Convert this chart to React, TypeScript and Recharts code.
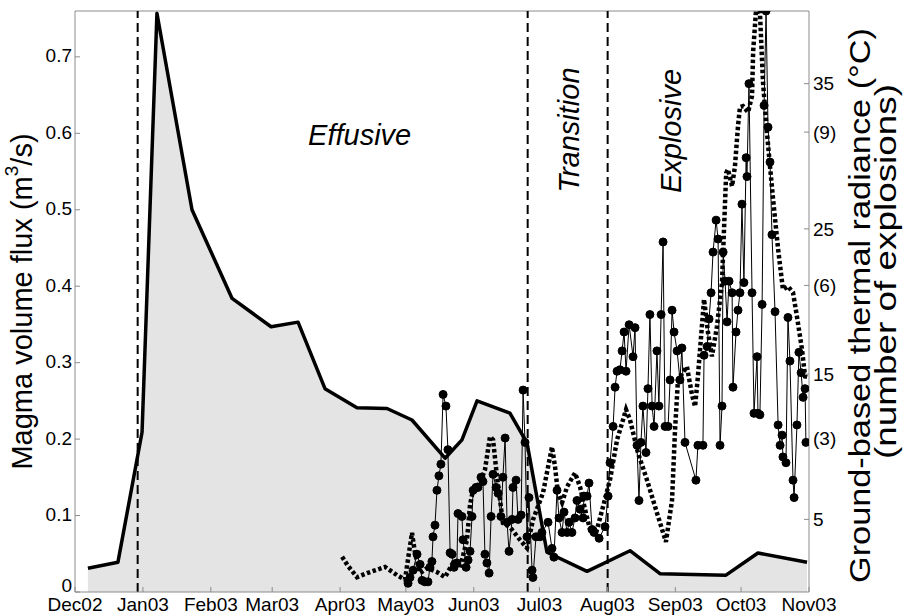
import {
  ComposedChart,
  Area,
  Line,
  XAxis,
  YAxis,
  ReferenceLine,
} from 'recharts';

// days counted from 1 Dec 2002
const monthLabels = ['Dec02', 'Jan03', 'Feb03', 'Mar03', 'Apr03', 'May03', 'Jun03', 'Jul03', 'Aug03', 'Sep03', 'Oct03', 'Nov03'];
const monthStartDays = [0, 31, 62, 90, 121, 151, 182, 212, 243, 274, 304, 335];

const fluxTicks = [0, 0.1, 0.2, 0.3, 0.4, 0.5, 0.6, 0.7];
const tempTicks = [5, 15, 25, 35];
const explosionTicks = [3, 6, 9];

const FLUX_MAX = 0.76;
const TEMP_MAX = 40;
const EXPL_MAX = 11.37;

// phase boundaries (dashed lines)
const phaseDays = [28.6, 206.6, 243.1];

const magmaDays = [5.9, 19.6, 30.6, 37.4, 53.4, 71.7, 89.5, 101.8, 114.1, 128.7, 142.4, 153.8, 168.9, 176.6, 183.5, 198.5, 206.3, 215.4, 233.7, 253.3, 267.0, 297.1, 311.7, 334.1];
const magmaFlux = [0.031, 0.039, 0.209, 0.757, 0.5, 0.384, 0.347, 0.353, 0.266, 0.241, 0.24, 0.225, 0.175, 0.199, 0.25, 0.234, 0.195, 0.052, 0.027, 0.054, 0.024, 0.022, 0.051, 0.039];

const thermalDays = [
  152.0, 152.9, 154.3, 156.1, 157.5, 158.4, 159.7, 161.1, 162.0, 162.9, 163.4, 164.3, 165.2, 166.1, 167.0, 168.0,
  169.3, 170.2, 171.2, 172.1, 173.0, 174.3, 174.8, 176.6, 177.1, 178.5, 179.4, 180.3, 181.2, 181.7, 183.0, 183.9,
  185.3, 186.2, 187.1, 188.0, 189.0, 189.9, 190.8, 192.2, 193.1, 194.4, 195.3, 196.3, 197.2, 198.1, 199.5, 199.9,
  201.3, 202.2, 203.6, 204.5, 205.4, 206.3, 207.2, 208.6, 209.0, 210.4, 212.2, 213.1, 215.9, 217.7, 218.6, 220.0,
  220.9, 222.3, 223.2, 224.6, 225.5, 226.8, 228.2, 229.1, 230.5, 231.9, 232.3, 233.7, 234.6, 236.0, 236.9, 239.2,
  241.9, 243.3, 244.2, 245.6, 246.5, 247.4, 248.7, 249.7, 250.6, 251.5, 252.9, 254.7, 255.6, 256.5, 257.4, 258.3,
  259.2, 260.6, 261.5, 262.4, 263.4, 264.3, 265.6, 266.5, 267.5, 268.4, 269.3, 270.7, 271.6, 272.5, 273.4, 274.8,
  276.1, 277.0, 278.4, 283.4, 284.3, 286.6, 287.1, 288.5, 289.4, 290.3, 291.2, 292.6, 293.5, 294.4, 295.3, 295.8,
  296.7, 297.6, 298.5, 299.9, 300.3, 301.7, 302.6, 303.5, 304.4, 305.3, 306.3, 306.7, 307.6, 309.0, 309.9, 311.3,
  311.7, 312.6, 313.6, 314.5, 315.4, 316.3, 317.2, 318.1, 319.5, 320.9, 321.8, 322.7, 323.1, 324.5, 325.4, 326.3,
  327.7, 328.2, 329.5, 330.4, 331.4, 332.3, 333.2, 333.6,
];
const thermalTemp = [
  0.6, 1.0, 1.5, 2.6, 1.9, 0.8, 0.7, 0.7, 1.7, 2.1, 3.8, 4.6, 7.0, 8.0, 8.8, 13.6,
  12.8, 9.8, 2.7, 2.6, 1.7, 2.0, 5.4, 5.2, 3.6, 1.7, 2.2, 2.8, 5.2, 7.0, 7.2, 7.2,
  7.9, 7.6, 2.6, 2.0, 1.3, 5.2, 8.1, 7.2, 6.8, 5.2, 7.9, 10.6, 4.8, 2.8, 5.0, 7.2,
  7.7, 5.0, 5.3, 13.9, 10.3, 3.8, 6.5, 1.5, 1.0, 3.8, 3.8, 4.1, 4.8, 3.0, 2.4, 7.0,
  5.1, 4.1, 5.5, 4.1, 4.8, 4.1, 5.1, 6.3, 5.7, 5.1, 6.6, 6.6, 7.5, 4.3, 4.1, 3.7,
  4.5, 6.6, 8.9, 11.4, 14.1, 15.2, 15.3, 16.6, 17.9, 15.2, 18.4, 16.2, 18.2, 10.1, 6.3, 10.3,
  12.8, 9.6, 14.0, 19.1, 12.8, 11.4, 16.6, 12.8, 19.1, 24.1, 11.4, 11.4, 14.6, 19.4, 17.9, 16.6,
  14.6, 16.8, 10.3, 7.7, 10.1, 10.1, 16.3, 16.9, 18.8, 20.6, 23.4, 25.6, 24.3, 10.1, 12.8, 23.4,
  21.4, 18.6, 21.4, 20.6, 14.1, 17.9, 19.4, 20.6, 26.7, 21.3, 29.9, 28.6, 35.0, 20.6, 12.3, 16.2,
  12.3, 12.2, 19.8, 33.5, 40.0, 32.0, 29.6, 24.6, 19.3, 11.5, 10.1, 10.8, 9.3, 8.9, 18.9, 15.9,
  7.7, 6.5, 11.5, 16.5, 15.1, 13.4, 14.0, 10.3,
];

const explosionDays = [
  121.9, 124.6, 128.7, 133.3, 141.5, 147.0, 150.6, 153.8, 155.2, 157.5, 160.7, 165.2, 168.9, 172.5, 175.7, 178.9,
  180.3, 181.7, 184.8, 187.1, 189.4, 190.8, 192.6, 194.0, 195.3, 198.5, 203.1, 206.3, 209.0, 213.6, 217.7, 219.1,
  220.4, 222.3, 224.6, 228.2, 230.5, 232.8, 235.1, 238.2, 241.0, 244.2, 247.4, 251.5, 253.3, 256.9, 261.0, 265.6,
  269.7, 272.5, 273.8, 275.2, 279.3, 281.6, 283.0, 284.3, 287.1, 288.9, 290.7, 293.0, 295.3, 296.3, 297.2, 298.0,
  299.9, 301.2, 302.6, 303.5, 304.9, 307.2, 309.0, 309.5, 310.8, 312.6, 314.0, 315.8, 317.2, 318.6, 320.9, 323.1,
  325.4, 327.7, 329.5, 331.8, 333.2, 335.0,
];
const explosionCount = [
  0.69, 0.51, 0.29, 0.37, 0.49, 0.33, 0.24, 1.16, 0.76, 0.37, 0.47, 0.39, 0.29, 0.57, 0.47, 1.02,
  1.71, 2.0, 2.14, 2.39, 3.04, 2.98, 2.25, 1.8, 1.35, 1.27, 1.02, 0.86, 1.41, 1.94, 2.84, 2.45,
  1.94, 1.75, 2.06, 2.33, 2.06, 1.61, 1.22, 1.22, 1.67, 2.2, 2.98, 3.57, 3.37, 2.73, 2.2, 1.55,
  0.98, 1.8, 3.12, 4.16, 4.41, 3.86, 3.63, 4.22, 5.73, 5.08, 4.61, 5.2, 6.06, 7.2, 8.2, 8.27,
  7.94, 8.33, 9.12, 9.49, 9.51, 9.39, 9.71, 10.57, 11.37, 11.35, 9.98, 9.0, 8.33, 7.69, 6.71, 5.92,
  5.98, 5.86, 5.39, 4.75, 4.22, 4.2,
];

const magmaData = magmaDays.map((day, i) => ({ day, flux: magmaFlux[i] }));
const thermalData = thermalDays.map((day, i) => ({ day, temp: thermalTemp[i] }));
const explosionData = explosionDays.map((day, i) => ({ day, count: explosionCount[i] }));

// the right axis carries two scales: °C and (number of explosions)
const explToTemp = (e: number) => (e * TEMP_MAX) / EXPL_MAX;
const rightTicks = [...tempTicks, ...explosionTicks.map(explToTemp)].sort((a, b) => a - b);
const rightTickLabel = (v: number) => {
  const e = explosionTicks.find((t) => Math.abs(explToTemp(t) - v) < 1e-6);
  return e !== undefined ? `(${e})` : String(v);
};

const FONT = '"Liberation Sans", Arial, Helvetica, sans-serif';
const FRAME = '#8c8c8c';
const tickStyle = { fontSize: 19, fill: '#000', fontFamily: FONT };

// plot box in page pixels
const PLOT_LEFT = 75;
const PLOT_TOP = 11;
const PLOT_BOTTOM = 592;

const LeftTick = (props: any) => {
  const y = props.payload?.coordinate ?? props.y;
  const v = props.payload?.value ?? 0;
  // the "0" sits a little higher so it clears Dec02
  const ty = v === 0 ? y - 7 : y - 1;
  return (
    <g>
      <line x1={PLOT_LEFT} x2={PLOT_LEFT + 5} y1={y} y2={y} stroke={FRAME} />
      <text x={PLOT_LEFT - 3} y={ty} textAnchor="end" dominantBaseline="central" {...tickStyle}>
        {v === 0 ? '0' : v.toFixed(1)}
      </text>
    </g>
  );
};

const leftTitle = () => {
  const cx = 22;
  const cy = (PLOT_TOP + PLOT_BOTTOM) / 2;
  return (
    <text x={cx} y={cy} transform={`rotate(-90 ${cx} ${cy})`} textAnchor="middle" dominantBaseline="central" fontSize={29} fontFamily={FONT} fill="#000">
      Magma volume flux (m<tspan dy={-11} fontSize={19}>3</tspan><tspan dy={11}>/s)</tspan>
    </text>
  );
};

const rightTitle = (props: any) => {
  const { x, y, height } = props.viewBox;
  const cy = y + height / 2;
  const x1 = x + 51;
  const x2 = x + 77;
  const cy1 = cy + 4;
  const cy2 = cy - 30;
  return (
    <g fontSize={29} fontFamily={FONT} fill="#000">
      <text x={x1} y={cy1} transform={`rotate(-90 ${x1} ${cy1})`} textAnchor="middle" dominantBaseline="central" textLength={555} lengthAdjust="spacingAndGlyphs">
        Ground-based thermal radiance (°C)
      </text>
      <text x={x2} y={cy2} transform={`rotate(-90 ${x2} ${cy2})`} textAnchor="middle" dominantBaseline="central" textLength={375} lengthAdjust="spacingAndGlyphs">
        (number of explosions)
      </text>
    </g>
  );
};

const phaseLabel = (text: string, dx: number, cyOffset: number, vertical: boolean) => (props: any) => {
  const { x, y } = props.viewBox;
  const cx = x + dx;
  const cy = y + cyOffset;
  return (
    <text
      x={cx}
      y={cy}
      transform={vertical ? `rotate(-90 ${cx} ${cy})` : undefined}
      textAnchor="middle"
      dominantBaseline="central"
      fontSize={29}
      fontStyle="italic"
      fontFamily={FONT}
      fill="#000"
    >
      {text}
    </text>
  );
};

const phaseLabels = [
  phaseLabel('Effusive', 222, 124, false),
  phaseLabel('Transition', 41, 119, true),
  phaseLabel('Explosive', 63, 120, true),
];

export default function App() {
  return (
    <div style={{ position: 'absolute', left: 0, top: 0, background: '#fff' }}>
      <ComposedChart width={903} height={615} margin={{ top: PLOT_TOP, right: 0, bottom: 0, left: 0 }}>
        <XAxis
          dataKey="day"
          type="number"
          domain={[0, 335]}
          ticks={monthStartDays}
          tickFormatter={(v: number) => monthLabels[monthStartDays.indexOf(v)]}
          interval={0}
          height={23}
          tickSize={-5}
          tickMargin={11}
          tick={tickStyle}
          stroke={FRAME}
          allowDataOverflow
        />
        <XAxis
          xAxisId="top"
          orientation="top"
          dataKey="day"
          type="number"
          domain={[0, 335]}
          ticks={monthStartDays}
          interval={0}
          height={0}
          tickSize={-5}
          tick={false}
          stroke={FRAME}
        />
        <YAxis
          yAxisId="flux"
          width={PLOT_LEFT}
          domain={[0, FLUX_MAX]}
          ticks={fluxTicks}
          interval={0}
          tickLine={false}
          axisLine={false}
          tick={<LeftTick />}
          allowDataOverflow
          label={leftTitle}
        />
        <YAxis
          yAxisId="temp"
          orientation="right"
          width={94}
          domain={[0, TEMP_MAX]}
          ticks={rightTicks}
          interval={0}
          tickFormatter={rightTickLabel}
          tickSize={-5}
          tickMargin={9}
          tick={{ ...tickStyle, textAnchor: 'start' }}
          stroke={FRAME}
          allowDataOverflow
          label={rightTitle}
        />
        <YAxis yAxisId="expl" hide domain={[0, EXPL_MAX]} allowDataOverflow />

        <Area
          yAxisId="flux"
          data={magmaData}
          dataKey="flux"
          type="linear"
          stroke="#000"
          strokeWidth={3.5}
          strokeLinejoin="round"
          fill="#e4e4e4"
          fillOpacity={1}
          isAnimationActive={false}
        />
        {/* frame edges: left on day 0, top on the flux maximum */}
        <ReferenceLine yAxisId="flux" x={0} stroke={FRAME} strokeWidth={1} />
        <ReferenceLine yAxisId="flux" y={FLUX_MAX} stroke={FRAME} strokeWidth={1} />
        {phaseDays.map((d, i) => (
          <ReferenceLine
            key={d}
            yAxisId="flux"
            x={d}
            stroke="#000"
            strokeWidth={2}
            strokeDasharray="9 5"
            label={phaseLabels[i]}
          />
        ))}
        <Line
          yAxisId="expl"
          data={explosionData}
          dataKey="count"
          type="linear"
          stroke="#000"
          strokeWidth={4.5}
          strokeDasharray="3.5 2.5"
          dot={false}
          isAnimationActive={false}
        />
        <Line
          yAxisId="temp"
          data={thermalData}
          dataKey="temp"
          type="linear"
          stroke="#000"
          strokeWidth={1}
          dot={{ r: 4, fill: '#000', stroke: '#000', strokeWidth: 1 }}
          isAnimationActive={false}
        />
      </ComposedChart>
    </div>
  );
}
